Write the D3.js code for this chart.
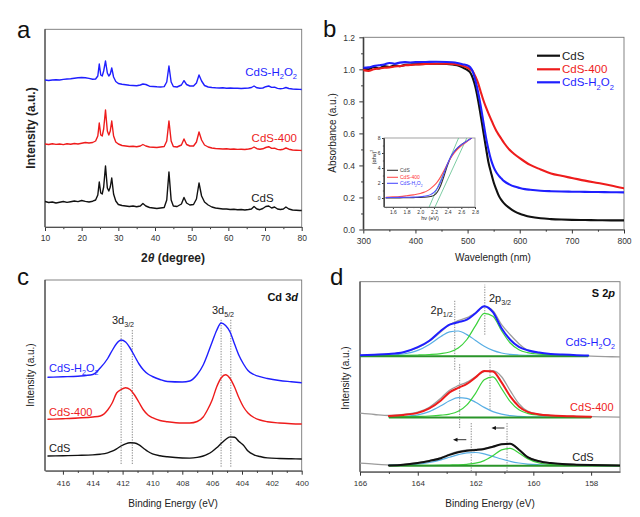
<!DOCTYPE html>
<html><head><meta charset="utf-8">
<script src="https://cdn.jsdelivr.net/npm/d3@7"></script>
<style>body{margin:0;background:#fff}svg{display:block}</style>
</head><body>
<svg id="fig" width="640" height="517"></svg>
<script>
// ---------------- DATA ----------------
// Panel a: XRD
const xrdTheta = [10,11,12,13,14,15,16,17,18,19,20,21,22,23,
  23.8,24.4,24.8,25.2,25.6,26.0,26.5,27.0,27.4,27.8,28.2,28.7,29.3,
  30,31,32,33,34,35,36,
  36.7,37.5,38.5,39.5,40.5,41.5,42.5,
  43.2,43.8,44.4,45,46,
  47.2,47.9,48.6,49.5,50.5,51.3,52.0,52.7,53.5,
  54.5,55.5,56.5,57.5,58.5,59.5,60.5,61.5,62.5,63.5,64.5,65.5,
  66.3,67,67.8,68.6,69.4,70.2,71,71.8,72.6,73.4,74.2,75,75.7,76.5,
  77.5,78.5,79.5,80];
const xrdCdS = [25.5,24.5,25,24,24.8,25.5,24.6,25.3,26,25.4,26.5,25.6,25,25.8,
  27,32,45,34,33,40,61,39,36,40,49,33,26,
  22.5,21.5,21,20.5,21,20.2,21,
  23.5,21,19.5,19,18.5,19,19.5,
  27,55,27,21,20.5,
  23,29.5,24,22,22.5,28,44,31,25,
  22,20,19,18.5,18,18,17.5,17.8,17.2,17.5,17,17.5,
  18,20.5,18,17.3,18.5,20.5,21,19,20,18,17.5,18,20,18,
  17,16.8,16.5,16.5];
const xrdCdS400 = [83,82.5,83.2,82.6,83,82.4,83.3,82.8,83.5,83,83.8,84.5,84,84.5,
  86,91,104,92,91,98,117,96,92,96,106,91,85,
  83,81.5,81,80.5,80.8,80.2,81,
  82.5,81,80,79.8,79.5,80,80.5,
  86,106,86,80.5,80,
  82,88,82.5,81,81,85,95,87,82,
  80,79,78.5,78.3,78,78.2,77.8,78,77.6,77.8,77.5,78,
  78.5,80,78.3,77.8,78.2,79.5,80.3,78.6,78.8,77.6,77.3,77.8,79,77.8,
  77,76.8,76.6,76.5];
const xrdCdSH2O2 = [147,146.5,147,147.3,147,147.6,148,148.3,148.8,149.2,149.5,149.3,148.6,147.8,
  148,151,163,152,151,156,166,154,151,153,159,150,145.5,
  143.5,142.8,142.3,141.8,141.5,141.2,142,
  143,142.5,140.8,140.5,140.2,140,140.4,
  145,161,145,140.5,140,
  142,146.3,142.5,141,141,144,152,146,141.5,
  140,139.5,139.2,139,139.2,138.8,139,138.7,138.8,138.5,138.8,139,
  139.5,141,139.2,138.8,139,140.3,141,139.6,139.8,138.6,138.3,138.6,139.5,138.5,
  138,137.8,137.6,137.5];
const xrdTicks = [10,20,30,40,50,60,70,80];

// Panel b: UV-vis absorbance
const wl = [300,310,320,330,340,350,360,370,380,390,
  400,420,440,460,470,480,490,500,505,510,
  515,520,525,530,535,540,545,550,555,560,
  565,570,580,590,600,610,620,640,660,680,
  700,725,750,775,800];
const absCdS = [1.005,1.0,1.015,1.005,1.02,1.015,1.025,1.02,1.028,1.03,
  1.032,1.034,1.035,1.034,1.031,1.025,1.012,0.995,0.98,0.945,
  0.89,0.81,0.715,0.615,0.515,0.42,0.355,0.295,0.25,0.21,
  0.183,0.163,0.135,0.113,0.098,0.088,0.08,0.07,0.065,0.062,
  0.06,0.059,0.058,0.057,0.057];
const absCdS400 = [0.995,0.99,1.0,1.005,1.01,1.012,1.018,1.02,1.025,1.027,
  1.03,1.033,1.035,1.035,1.034,1.03,1.022,1.01,1.0,0.988,
  0.955,0.915,0.862,0.81,0.765,0.725,0.688,0.65,0.617,0.59,
  0.565,0.54,0.5,0.47,0.445,0.423,0.403,0.375,0.35,0.335,
  0.322,0.305,0.29,0.275,0.257];
const absCdSH2O2 = [1.01,1.012,1.02,1.025,1.03,1.04,1.035,1.042,1.045,1.043,
  1.045,1.046,1.047,1.046,1.044,1.04,1.032,1.024,1.013,0.985,
  0.93,0.86,0.775,0.678,0.58,0.5,0.435,0.39,0.357,0.335,
  0.318,0.302,0.282,0.268,0.259,0.252,0.248,0.242,0.239,0.237,
  0.236,0.235,0.234,0.233,0.232];
const wlTicks = [300,400,500,600,700,800];
const absTicks = [0,0.2,0.4,0.6,0.8,1.0,1.2];
// inset: Tauc plot
const hv = [1.5,1.6,1.7,1.8,1.9,2.0,2.05,2.1,2.15,2.2,2.25,2.3,2.35,2.4,2.45,2.5,2.55,2.6,2.65,2.7,2.75];
const taucCdS = [0,0,0.02,0.03,0.05,0.08,0.1,0.13,0.2,0.35,0.8,1.7,3.0,4.4,5.5,6.2,6.7,7.1,7.4,7.7,8.0];
const taucCdS400 = [0.1,0.15,0.2,0.3,0.42,0.6,0.75,0.95,1.25,1.65,2.15,2.85,3.7,4.6,5.4,6.05,6.55,6.95,7.3,7.65,8.0];
const taucCdSH2O2 = [0.05,0.07,0.08,0.1,0.12,0.17,0.22,0.3,0.45,0.75,1.3,2.2,3.4,4.6,5.55,6.25,6.75,7.1,7.4,7.7,8.0];
const taucFitA = [[2.13,-1.2],[2.56,8.0]];
const taucFitB = [[2.215,-1.2],[2.68,8.0]];
const hvTicks = [1.6,1.8,2.0,2.2,2.4,2.6,2.8];
const taucTicks = [0,2,4,6,8];

// Panel c: Cd 3d XPS
const cdBE = [417,416,415,414,413.5,413,412.7,412.4,412.1,411.8,411.5,411.2,410.9,410.6,410.3,410,
  409.5,409,408,407.5,407,406.6,406.3,406,405.7,405.4,405.1,404.8,404.5,404.2,403.9,403.6,403.2,
  402.8,402.3,401.5,400.7,400];
const cdH2O2 = [94.7,95.2,95.8,97.5,104,113.5,121.5,128.5,132,130,124,116,108,102,98,95.5,
  92.5,90.5,90,91,97.5,107,118,130,141.5,149,146.5,140,128,116.5,108,101.5,97.5,
  95.3,93.5,91.5,90.3,89.3];
const cd400 = [52.7,53.3,54,55,56,62,69,79,82.5,84.3,82.5,77,69.5,62,57,54.3,
  51.5,50.3,49,49,50.5,55,62.5,72,85,94,97.2,93.5,85,74,65,59,54.5,
  52,50.3,49,48.3,48];
const cdCdS = [16,16.3,16.6,17.1,17.8,19.2,20.8,23.2,26,28.2,29.2,29,27.2,23.8,20.5,18.2,
  16.3,15.2,14,13.9,14.6,16,17.8,20.5,24.2,28.5,32.5,35.1,34.8,30.5,26.8,21,17.2,
  15.5,14.1,13.5,13.2,13];
const cdRefLines = [[412.1,8,142.7],[411.35,8,142.7],[405.4,5.3,152.5],[404.75,5.3,153.5]];
const cdTicks = [416,414,412,410,408,406,404,402,400];

// Panel d: S 2p XPS (envelope, 2p3/2, 2p1/2, raw, background)
const sBE_h = [166,165.5,165,164.5,164,163.6,163.2,162.9,162.6,162.3,162.0,161.7,161.4,161.1,160.8,160.5,160.2,159.8,159.4,159,158.5,158.1];
const sH_env = [116.5,117,117.7,119.5,124.5,131,141,147,149.5,152,158.5,165.5,159.5,143.5,132,124.9,121.5,119.1,117.8,117.1,116.5,116.3];
const sH_p32 = [115.9,116,116.1,116.3,116.7,117.2,118.1,119.7,123.6,132.2,146,158.4,155.4,141,128.7,122,119,117.5,116.9,116.5,116.2,116.1];
const sH_p12 = [116,116.1,116.5,117.7,121.3,127.3,135.2,139.9,140.7,137.1,131.3,125.5,121.3,118.7,117.3,116.7,116.4,116.1,116,115.9,115.8,115.7];
const sH_bg = [[166,115.5],[158.1,115.5]];
const sBE_m = [165,164.5,164,163.6,163.2,162.9,162.6,162.3,162.0,161.7,161.4,161.1,160.8,160.5,160.2,159.8,159.4,159,158.5,158];
const sM_env = [55.8,56.8,58.8,63.3,71.3,79.3,83.8,87.8,94.3,100.8,100.3,89.3,75.3,65.3,59.8,57.3,56.3,55.7,55.3,55.0];
const sM_p32 = [54.8,55,55.3,55.7,56.5,57.6,60.4,66.8,78.4,91.9,94.8,83.1,70.1,62,58.3,56.5,55.8,55.3,55,54.8];
const sM_p12 = [54.9,55.3,56.8,60.1,65.9,70.9,74.1,73.3,69.5,64.3,60.1,57.5,56,55.3,54.9,54.8,54.7,54.6,54.5,54.5];
const sM_bg = [[165,54.3],[158,54.3]];
const sBE_b = [165,164.5,164,163.6,163.2,162.9,162.6,162.3,162.0,161.7,161.4,161.1,160.8,160.5,160.2,159.8,159.4,159,158.5,158,157.5,157];
const sB_env = [6.3,7,8.8,10.8,13.5,16.8,19.5,21,21.8,22.8,25,27.5,28,22,14.5,10.5,8.6,7.6,7,6.6,6.4,6.3];
const sB_p32 = [6.2,6.2,6.3,6.4,6.5,6.7,6.9,7.4,8.5,11.1,15.9,21.8,23.4,18.7,13.1,8.7,7.2,6.8,6.5,6.3,6.25,6.2];
const sB_p12 = [6.5,6.8,7.6,9.2,11.8,14.4,17,18.9,19.2,17.8,15.3,12.7,10.4,8.7,7.6,6.9,6.5,6.4,6.3,6.2,6.15,6.1];
const sB_bg = [[165,6],[157,6]];
const sBE_raw = [166,165.5,165,164.5,164,163.6,163.2,162.9,162.6,162.3,162.0,161.7,161.4,161.1,160.8,160.5,160.2,159.8,159.4,159,158.5,158,157.5,157];
const sH_raw = [116.3,116.8,117.5,119.3,124,130.5,140,147,151,154,159,165,161,147,137,128,121.5,118.5,117.3,116.6,116,115.6,115.1,114.8];
const sM_raw = [58.5,57.2,56.2,57.3,59.5,64.5,73.5,81.5,86,89.5,95,100,101,95,81,68,60.5,57.5,56.3,55.7,55.3,55,54.8,54.6];
const sB_raw = [8.5,7.5,6.8,7.3,9,11,14,17.5,20.3,21.8,22.3,23.3,25.3,27.5,27.8,22.5,15,10.8,8.8,7.8,7.1,6.7,6.5,6.4];
const sRefLines = [[162.72,102,172],[161.68,137,187],[162.55,43.7,108.7],[161.5,62,112],[162.15,0.5,48.7],[160.91,0.5,48.7]];
const sShiftArrows = [[162.32,162.78,32],[161.0,161.45,43.7]];
const sTicks = [166,164,162,160,158];

// ---------------- HELPERS ----------------
const FONT = '"Liberation Sans", Arial, Helvetica, sans-serif';
const svg = d3.select("#fig");
const C = {black:"#111", red:"#ee1c1c", blue:"#1f1fff", green:"#3cd23c", cyan:"#58aee4", gray:"#9c9c9c", bg:"#2a952a"};
let clipId = 0;

function rich(g, x, y, s, size, o = {}) {
  const t = g.append("text").attr("x", x).attr("y", y).attr("font-size", size)
    .attr("font-family", FONT).attr("fill", o.fill || "#222")
    .attr("text-anchor", o.anchor || "start").attr("font-weight", o.weight || "normal");
  if (o.rotate) t.attr("transform", `rotate(${o.rotate},${x},${y})`);
  const re = /_\{([^}]*)\}|\^\{([^}]*)\}|\*\{([^}]*)\}|([^_^*]+)/g;
  let m, shift = 0;
  while ((m = re.exec(s)) !== null) {
    if (m[1] !== undefined) { const d = size * 0.28; t.append("tspan").attr("dy", d - shift).attr("font-size", size * 0.65).text(m[1]); shift = d; }
    else if (m[2] !== undefined) { const d = -size * 0.4; t.append("tspan").attr("dy", d - shift).attr("font-size", size * 0.65).text(m[2]); shift = d; }
    else if (m[3] !== undefined) { t.append("tspan").attr("dy", -shift).attr("font-style", "italic").text(m[3]); shift = 0; }
    else { t.append("tspan").attr("dy", -shift).text(m[4]); shift = 0; }
  }
  return t;
}

function panel(cfg) {
  const g = svg.append("g");
  const x = d3.scaleLinear().domain(cfg.xd).range([cfg.L, cfg.R]);
  const y = d3.scaleLinear().domain(cfg.yd).range([cfg.B, cfg.T]);
  const id = "clip" + (clipId++);
  g.append("clipPath").attr("id", id).append("rect")
    .attr("x", cfg.L).attr("y", cfg.T).attr("width", cfg.R - cfg.L).attr("height", cfg.B - cfg.T);
  if (cfg.fill) g.append("rect").attr("x", cfg.L).attr("y", cfg.T).attr("width", cfg.R - cfg.L)
    .attr("height", cfg.B - cfg.T).attr("fill", cfg.fill);
  const fs = cfg.tickFont || 8.5;
  const ts = cfg.tickSize || 4;
  // minor x ticks
  if (cfg.xMinor) {
    g.append("g").attr("transform", `translate(0,${cfg.B})`)
      .call(d3.axisBottom(x).tickValues(cfg.xMinor).tickSize(ts * 0.55).tickSizeOuter(0).tickFormat(""))
      .call(a => a.select(".domain").remove())
      .selectAll("line").attr("stroke", "#333");
  }
  const xa = g.append("g").attr("transform", `translate(0,${cfg.B})`)
    .call(d3.axisBottom(x).tickValues(cfg.xMajor).tickSize(ts).tickSizeOuter(0)
      .tickPadding(cfg.xPad || 3).tickFormat(cfg.xFmt || d3.format("d")));
  xa.attr("font-family", FONT).attr("font-size", fs);
  xa.selectAll("text").attr("fill", "#333");
  xa.selectAll("line").attr("stroke", "#333");
  xa.select(".domain").attr("stroke", "#333");
  if (cfg.yMajor) {
    if (cfg.yMinor) {
      g.append("g").attr("transform", `translate(${cfg.L},0)`)
        .call(d3.axisLeft(y).tickValues(cfg.yMinor).tickSize(ts * 0.55).tickSizeOuter(0).tickFormat(""))
        .call(a => a.select(".domain").remove())
        .selectAll("line").attr("stroke", "#333");
    }
    const ya = g.append("g").attr("transform", `translate(${cfg.L},0)`)
      .call(d3.axisLeft(y).tickValues(cfg.yMajor).tickSize(ts).tickSizeOuter(0)
        .tickPadding(cfg.yPad || 3).tickFormat(cfg.yFmt || d3.format(".1f")));
    ya.attr("font-family", FONT).attr("font-size", fs);
    ya.selectAll("text").attr("fill", "#333");
    ya.selectAll("line").attr("stroke", "#333");
    ya.select(".domain").attr("stroke", "#333");
  }
  // frame
  g.append("rect").attr("x", cfg.L).attr("y", cfg.T).attr("width", cfg.R - cfg.L).attr("height", cfg.B - cfg.T)
    .attr("fill", "none").attr("stroke", cfg.frame || "#777").attr("stroke-width", 0.9);
  g.append("line").attr("x1", cfg.L).attr("x2", cfg.L).attr("y1", cfg.T).attr("y2", cfg.B).attr("stroke", "#333");
  const plot = g.append("g").attr("clip-path", `url(#${id})`);
  return {g, plot, x, y};
}

function curve(p, xs, ys, color, w, cv) {
  p.plot.append("path").datum(d3.zip(xs, ys))
    .attr("d", d3.line().x(d => p.x(d[0])).y(d => p.y(d[1])).curve(cv || d3.curveMonotoneX))
    .attr("fill", "none").attr("stroke", color).attr("stroke-width", w)
    .attr("stroke-linejoin", "round").attr("stroke-linecap", "round");
}
function seg(p, pts, color, w, dash) {
  const l = p.plot.append("path").datum(pts)
    .attr("d", d3.line().x(d => p.x(d[0])).y(d => p.y(d[1])))
    .attr("fill", "none").attr("stroke", color).attr("stroke-width", w);
  if (dash) l.attr("stroke-dasharray", dash);
  return l;
}

// ---------------- PANEL A ----------------
const pa = panel({L:45, R:301.7, T:29.3, B:227, xd:[10,80], yd:[0,197.7],
  xMajor: xrdTicks, xMinor: d3.range(15, 80, 10), xPad: 3.5, tickFont: 8.5});
curve(pa, xrdTheta, xrdCdS, C.black, 1.4, d3.curveLinear);
curve(pa, xrdTheta, xrdCdS400, C.red, 1.4, d3.curveLinear);
curve(pa, xrdTheta, xrdCdSH2O2, C.blue, 1.4, d3.curveLinear);
rich(pa.g, 17, 37.5, "a", 24, {fill:"#111"});
rich(pa.g, 297, 76, "CdS-H_{2}O_{2}", 11.5, {fill:C.blue, anchor:"end"});
rich(pa.g, 297, 141.5, "CdS-400", 11.5, {fill:C.red, anchor:"end"});
rich(pa.g, 262.5, 201.5, "CdS", 11.5, {fill:"#222", anchor:"middle"});
rich(pa.g, 173, 261.5, "2*{θ} (degree)", 12, {anchor:"middle", weight:"bold"});
rich(pa.g, 35, 128, "Intensity (a.u.)", 12, {anchor:"middle", weight:"bold", rotate:-90});

// ---------------- PANEL B ----------------
const pb = panel({L:363.3, R:624, T:37.3, B:229.5, xd:[300,800], yd:[0,1.2],
  xMajor: wlTicks, xMinor: d3.range(350, 800, 100), xPad: 4.5,
  yMajor: absTicks, yMinor: d3.range(0.1, 1.2, 0.2), yPad: 4.3, tickFont: 8.5});
curve(pb, wl, absCdS, C.black, 2.1);
curve(pb, wl, absCdS400, C.red, 2.1);
curve(pb, wl, absCdSH2O2, C.blue, 2.1);
rich(pb.g, 323, 37, "b", 24, {fill:"#111"});
rich(pb.g, 493, 261, "Wavelength (nm)", 10, {anchor:"middle"});
rich(pb.g, 335.5, 133, "Absorbance (a.u.)", 10, {anchor:"middle", rotate:-90});
[["CdS", C.black, "#222", 55.7], ["CdS-400", C.red, C.red, 69.3], ["CdS-H_{2}O_{2}", C.blue, C.blue, 82.3]]
  .forEach(([t, c, tc, yy]) => {
    pb.g.append("line").attr("x1", 537).attr("x2", 560).attr("y1", yy).attr("y2", yy)
      .attr("stroke", c).attr("stroke-width", 2.2);
    rich(pb.g, 562, yy + 4, t, 11.5, {fill: tc});
  });

// inset
const pi = panel({L:384, R:475, T:138, B:207, xd:[1.47,2.8], yd:[-1.2,8],
  xMajor: hvTicks, xMinor: d3.range(1.5, 2.8, 0.2), xPad: 1.5, xFmt: d3.format(".1f"),
  yMajor: taucTicks, yMinor: [1,3,5,7], yPad: 1.5, yFmt: d3.format("d"),
  tickFont: 5, tickSize: 2, fill: "#fff", frame: "#999"});
seg(pi, taucFitA, "#5cbf8c", 1, null).attr("opacity", 0.8);
seg(pi, taucFitB, "#5cbf8c", 1, null).attr("opacity", 0.8);
curve(pi, hv, taucCdS, "#333", 1.1);
curve(pi, hv, taucCdS400, "#ff5050", 1.1);
curve(pi, hv, taucCdSH2O2, "#4f4fff", 1.1);
[["CdS", "#333", "#444", 170.3], ["CdS-400", "#ff5050", "#ff3030", 177.3], ["CdS-H_{2}O_{2}", "#4f4fff", "#3a3aff", 183.3]]
  .forEach(([t, c, tc, yy]) => {
    pi.g.append("line").attr("x1", 387).attr("x2", 398).attr("y1", yy).attr("y2", yy)
      .attr("stroke", c).attr("stroke-width", 1.1);
    rich(pi.g, 400, yy + 1.8, t, 5, {fill: tc});
  });
rich(pi.g, 430, 220, "hν (eV)", 5.5, {anchor:"middle"});
rich(pi.g, 375.5, 157, "(αhν)^{2}", 5.5, {anchor:"middle", rotate:-90});

// ---------------- PANEL C ----------------
const pc = panel({L:45, R:301.7, T:280, B:470.7, xd:[417.2,400], yd:[1.3,192],
  xMajor: cdTicks, xMinor: d3.range(415, 400, -2), xPad: 5.5, tickFont: 8});
cdRefLines.forEach(([e, y0, y1]) => seg(pc, [[e, y0], [e, y1]], "#888", 1, "1.3,1.3"));
curve(pc, cdBE, cdCdS, C.black, 1.4);
curve(pc, cdBE, cd400, C.red, 1.4);
curve(pc, cdBE, cdH2O2, C.blue, 1.4);
rich(pc.g, 17, 285, "c", 24, {fill:"#111"});
rich(pc.g, 298, 300.5, "Cd 3*{d}", 11, {anchor:"end", weight:"bold", fill:"#111"});
rich(pc.g, 123, 323.5, "3d_{3/2}", 11, {anchor:"middle"});
rich(pc.g, 223, 313.5, "3d_{5/2}", 11, {anchor:"middle"});
rich(pc.g, 49, 372, "CdS-H_{2}O_{2}", 11, {fill:C.blue});
rich(pc.g, 49, 416, "CdS-400", 11, {fill:C.red});
rich(pc.g, 49, 452, "CdS", 11, {fill:"#222"});
rich(pc.g, 173, 506.8, "Binding Energy (eV)", 10, {anchor:"middle"});
rich(pc.g, 33.5, 375, "Intensity (a.u.)", 10, {anchor:"middle", rotate:-90});

// ---------------- PANEL D ----------------
const pd = panel({L:360, R:620, T:281.7, B:471.7, xd:[166,157], yd:[0,190],
  xMajor: sTicks, xMinor: [165,163,161,159], xPad: 4.5, tickFont: 8});
sRefLines.forEach(([e, y0, y1]) => seg(pd, [[e, y0], [e, y1]], "#888", 1, "1.3,1.3"));
[[sH_raw, sBE_h, sH_p12, sH_p32, sH_bg, sH_env, C.blue],
 [sM_raw, sBE_m, sM_p12, sM_p32, sM_bg, sM_env, C.red],
 [sB_raw, sBE_b, sB_p12, sB_p32, sB_bg, sB_env, C.black]].forEach(([raw, be, p12, p32, bg, env, col]) => {
  curve(pd, sBE_raw, raw, C.gray, 1.3);
  curve(pd, be, p12, C.cyan, 1.2);
  curve(pd, be, p32, C.green, 1.2);
  seg(pd, bg, C.bg, 2, null);
  curve(pd, be, env, col, 2);
});
sShiftArrows.forEach(([from, to, yv]) => {
  const x0 = pd.x(from), x1 = pd.x(to), yy = pd.y(yv);
  pd.g.append("line").attr("x1", x0).attr("x2", x1 + 3).attr("y1", yy).attr("y2", yy)
    .attr("stroke", "#333").attr("stroke-width", 1);
  pd.g.append("path").attr("d", `M${x1},${yy}L${x1 + 4.5},${yy - 2}L${x1 + 4.5},${yy + 2}Z`).attr("fill", "#111");
});
rich(pd.g, 330, 285, "d", 24, {fill:"#111"});
rich(pd.g, 615, 296.5, "S 2*{p}", 11, {anchor:"end", weight:"bold", fill:"#111"});
rich(pd.g, 441.7, 313.5, "2p_{1/2}", 11, {anchor:"middle"});
rich(pd.g, 500, 301.5, "2p_{3/2}", 11, {anchor:"middle"});
rich(pd.g, 615, 345.5, "CdS-H_{2}O_{2}", 11, {fill:C.blue, anchor:"end"});
rich(pd.g, 613.5, 410.5, "CdS-400", 11, {fill:C.red, anchor:"end"});
rich(pd.g, 583, 460.5, "CdS", 11, {fill:"#222", anchor:"middle"});
rich(pd.g, 490, 506.5, "Binding Energy (eV)", 10, {anchor:"middle"});
rich(pd.g, 348.5, 378, "Intensity (a.u.)", 10, {anchor:"middle", rotate:-90});
</script>
</body></html>
